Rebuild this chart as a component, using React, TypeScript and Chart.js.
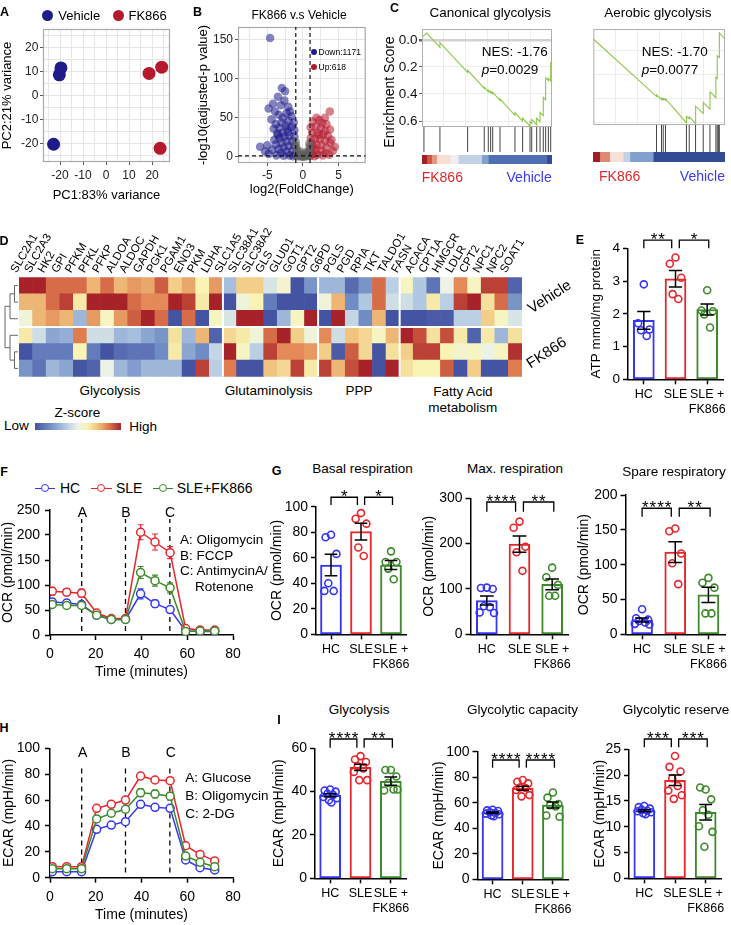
import React, { useEffect, useRef } from "react";
import { Chart, registerables } from "chart.js";

Chart.register(...registerables);
const FONT = "'Liberation Sans', Arial, Helvetica, sans-serif";
Chart.defaults.font.family = FONT;
Chart.defaults.color = "#000";

// ======================= DATA =======================
// A: PCA
const pcaVehicle = [[-19.6, 11.7], [-20.3, 8.8], [-22.8, -20.1]];
const pcaFK866 = [[18.7, 9.4], [24.2, 12.0], [23.5, -21.8]];
const pcaTicks = [-25, -20, -15, -10, -5, 0, 5, 10, 15, 20, 25];
const pcaMajorTicks = [-20, -10, 0, 10, 20];

// B: volcano (log2FC, -log10 padj)
const volcanoDown = [[-4.6, 152], [-2.95, 88], [-2.5, 84], [-3.5, 77], [-4.2, 68], [-2.05, 64], [-4.8, 62], [-3.1, 66], [-2.6, 72], [-3.9, 58], [-2.3, 56], [-3.4, 54], [-1.6, 52], [-4.4, 48], [-2.8, 50], [-1.3, 44], [-2.0, 46], [-3.0, 44], [-3.8, 42], [-4.1, 36], [-1.6, 38], [-2.4, 40], [-3.3, 37], [-1.2, 34], [-2.1, 32], [-2.9, 31], [-3.6, 30], [-1.2, 26], [-1.9, 27], [-2.6, 26], [-3.3, 24], [-4.0, 22], [-1.5, 20], [-2.3, 20], [-3.0, 18], [-3.8, 16], [-1.2, 14], [-2.0, 14], [-2.7, 12], [-3.4, 10], [-4.3, 9], [-1.5, 8], [-2.3, 7], [-3.1, 5], [-1.1, 3], [-1.9, 2], [-2.7, 1.5], [-3.7, 2], [-4.8, 4], [-5.3, 7], [-6.0, 13], [-5.0, 15], [-1.4, 1], [-3.5, 28], [-2.2, 36], [-1.8, 58]];
const volcanoUp = [[3.77, 58], [3.07, 50], [1.9, 50], [2.7, 43], [4.46, 13], [4.0, 22], [3.8, 35], [1.4, 45], [2.3, 47], [3.3, 42], [1.1, 38], [1.8, 39], [2.5, 37], [3.1, 33], [1.3, 31], [2.0, 31], [2.8, 29], [3.5, 27], [1.1, 24], [1.7, 23], [2.4, 23], [3.1, 21], [3.8, 18], [1.2, 17], [1.9, 16], [2.6, 15], [3.3, 12], [4.2, 8], [1.1, 10], [1.8, 9], [2.5, 8], [3.2, 5], [1.3, 4], [2.0, 3], [2.8, 2], [3.7, 3], [1.05, 1.5], [1.6, 1], [2.2, 28], [1.5, 13]];
const volcanoNs = [[0, 0.5], [-0.3, 2], [0.3, 2], [-0.6, 5], [0.6, 5], [-0.85, 9], [0.85, 8], [-0.95, 14], [0.95, 13], [-0.5, 1], [0.5, 1], [-0.2, 0.5], [0.2, 0.5], [-0.7, 3], [0.7, 3], [-1.0, 19], [0.9, 17], [-0.4, 7], [0.4, 6], [0, 1.5], [-0.8, 1], [0.8, 1.5]];
const volcanoXTicks = [-7.5, -5, -2.5, 0, 2.5, 5, 7.5];
const volcanoXMajor = [-5, 0, 5];
const volcanoYTicks = [0, 25, 50, 75, 100, 125, 150];
const volcanoYMajor = [0, 50, 100, 150];
const volcanoFcCut = [-1, 1];
const volcanoPCut = 1.3;
const volcanoDownCount = 1171;
const volcanoUpCount = 618;

// C: GSEA
const gseaCanonCurve = [[0, -0.02], [3.6, -0.05], [13.8, 0.055], [13.8, 0.02], [35.1, 0.24], [35.1, 0.225], [47.9, 0.359], [47.9, 0.349], [51, 0.382], [51, 0.372], [52.8, 0.391], [52.8, 0.381], [54.4, 0.398], [54.4, 0.388], [60, 0.447], [60, 0.437], [71.5, 0.558], [71.5, 0.538], [77.4, 0.6], [77.4, 0.578], [83.1, 0.638], [83.1, 0.605], [84.4, 0.618], [84.4, 0.588], [88.2, 0.628], [88.2, 0.578], [90.8, 0.605], [90.8, 0.535], [93.3, 0.56], [93.3, 0.425], [95.1, 0.443], [95.1, 0.28], [97.2, 0.3], [97.2, 0.285], [99, 0.305], [99, 0.17], [99.7, 0.177], [99.7, -0.02], [100, -0.02]];
const gseaCanonHits = [1.5, 13.8, 35.1, 47.9, 51, 52.8, 54.4, 60, 71.5, 77.4, 83.1, 84.4, 88.2, 90.8, 93.3, 95.1, 97.2, 99];
const gseaCanonStripEdges = [0, 3.6, 7.4, 11.3, 21.5, 27.9, 45.9, 51, 95.9, 100];
const gseaCanonStripScore = [2.0, 1.5, 1.0, 0.5, 0.05, -0.5, -1.0, -1.5, -1.9];
const gseaCanonTicks = [0, 0.1, 0.2, 0.3, 0.4, 0.5, 0.6];
const gseaAerobicCurve = [[0, 0], [48.1, -0.48], [48.1, -0.468], [51.9, -0.506], [51.9, -0.494], [53.2, -0.507], [53.2, -0.495], [54.9, -0.512], [54.9, -0.5], [70.8, -0.7], [70.8, -0.645], [72.9, -0.665], [72.9, -0.65], [77.7, -0.705], [77.7, -0.56], [83.5, -0.62], [83.5, -0.53], [88.6, -0.585], [88.6, -0.44], [93.1, -0.49], [93.1, -0.32], [94.1, -0.33], [94.1, -0.14], [95.7, -0.155], [95.7, 0.05], [100, 0.0]];
const gseaAerobicHits = [48.1, 51.9, 53.2, 54.9, 70.8, 72.9, 77.7, 83.5, 88.6, 93.1, 94.1, 95.0, 95.7];
const gseaAerobicStripEdges = [0, 5.1, 12.7, 22.8, 27.9, 45.6, 100];
const gseaAerobicStripScore = [2.0, 1.1, 0.4, -0.5, -1.0, -1.9];
const gseaAerobicTicks = [-0.7, -0.6, -0.5, -0.4, -0.3, -0.2, -0.1, 0];

// D: heatmap z-scores
const heatGenes = ["SLC2A1", "SLC2A3", "HK2", "GPI", "PFKM", "PFKL", "PFKP", "ALDOA", "ALDOC", "GAPDH", "PGK1", "PGAM1", "ENO3", "PKM", "LDHA", "SLC1A5", "SLC38A1", "SLC38A2", "GLS", "GLUD1", "GOT1", "GPT2", "G6PD", "PGLS", "PGD", "RPIA", "TKT", "TALDO1", "FASN", "ACACA", "CPT1A", "HMGCR", "LDLR", "CPT2", "NPC1", "NPC2", "SOAT1"];
const heatGroupSizes = [15, 7, 6, 9];
const heatVehicle1 = [2, 2, 1.5, 1.5, 1.5, 1.0, 1.5, 1.0, 1.2, 1.1, 1.6, 0.8, 1.1, 0.4, 1.2, -0.7, 0.8, 0.8, -0.2, 0.2, -2, -1.2, -0.8, -0.8, -1.7, -1.2, 1.5, -0.5, 0.3, -0.6, -1.6, 0.0, 1.3, 0.3, 1.8, 1.8, -1.8];
const heatVehicle2 = [1.0, 1.0, 1.5, 1.8, 0.5, 2, 2, 2, 1.5, 1.3, 1.3, 2, 1.8, 0.5, 2, -2, 0.1, 0.4, -1.5, -2, -2, -2, 0.1, 1.0, -1.3, -0.6, 1.5, -0.3, -0.3, -0.6, 0.5, -0.5, 1.8, 2, 0.6, 1.5, -1.2];
const heatVehicle3 = [0.1, 1.0, 1.2, 1.0, -0.8, 1.2, 0.3, 1.2, 1.6, 2, 1.5, -2, 1.5, -2, 0.3, -0.2, 2, 2, -2, -0.8, 0.3, 2, -2, 2, -0.4, -1.3, 1.0, -2, -2, -2, -1.9, -1.9, -0.5, -0.5, 0.8, 0.3, -0.2];
const heatFK1 = [0.5, -0.3, -1.0, -0.9, 1.4, -0.3, -0.3, -0.8, -0.7, -1.0, -1.2, 0.6, -0.8, 1.0, -1.8, 0.7, 0.5, 0.1, 1.5, 2, 0.8, 0.1, 1.3, -0.3, 0.9, 0.7, 0.3, 1.0, 2, 1.7, 0.6, 1.7, 0.5, -1.8, 0.5, -0.8, 0.6];
const heatFK2 = [-2, -1.5, -1.5, -1.5, 0.4, -1.5, -2, -1.7, -1.6, -1.6, -1.3, 0.5, -1.0, -1.3, -0.4, 2, 0.3, -0.5, 1.8, 1.3, 1.3, 1.2, 0.8, -1.9, 1.6, 0.7, -2, 0.6, 0.8, 1.8, 1.8, 0.4, 0.2, 0.3, 0.0, 0.3, 1.9];
const heatFK3 = [-1.2, -1.6, -0.8, -1.0, -2, -1.8, 0.0, -0.8, -1.1, -0.8, -0.8, -0.8, -2, 1.8, -0.5, 1.4, -2, -2, 0.9, 0.7, 1.8, 0.5, 1.8, 1.0, 1.7, 2, -2, 2, 0.6, 0.4, 0.4, 1.6, -2, 0.8, -2, -2, 1.4];

// E: ATP
const atpMean = [1.8, 3.07, 2.13];
const atpSem = [0.27, 0.25, 0.17];
const atpHC = [2.9, 1.71, 1.52, 1.5, 1.32];
const atpSLE = [3.72, 3.53, 3.1, 2.6, 2.45];
const atpFK = [2.72, 2.1, 2.08, 1.98, 1.58];

// F: OCR trace
const seahorseTime = [1, 7.3, 13.8, 20.4, 26.8, 33, 39.6, 45.9, 52.5, 59.3, 65.6, 72];
const seahorseInject = [13.85, 33, 52.4];
const ocrHC = [66, 64, 61, 39.5, 31, 31, 82.4, 62.6, 50.8, 8, 7, 7];
const ocrHCErr = [6, 6, 6, 6, 6, 6, 10, 7, 6, 2, 2, 2];
const ocrSLE = [87.5, 85.6, 83.6, 44, 33, 33, 205.5, 186, 164.6, 13, 10, 10];
const ocrSLEErr = [8, 7, 8, 5, 5, 5, 15, 16, 12, 3, 3, 3];
const ocrFK = [61, 59, 59, 39.5, 31, 31, 125, 108.7, 94.3, 7, 8, 8];
const ocrFKErr = [5, 4, 5, 6, 6, 6, 12, 11, 10, 2, 2, 2];

// G: OCR parameters
const basalMean = [54.3, 80.5, 54.3];
const basalSem = [8.5, 6.5, 3.5];
const basalHC = [78, 76, 63, 40, 34, 34];
const basalSLE = [95, 90.6, 86.7, 68, 61.4];
const basalFK = [65, 56.7, 56.7, 51.5, 43.2];
const maxMean = [74.5, 199, 110];
const maxSem = [10, 18, 12];
const maxHC = [103, 102, 100, 62, 60, 48, 47];
const maxSLE = [248.6, 235, 193, 181, 140];
const maxFK = [147, 126, 109, 85, 85];
const spareMean = [20.5, 118, 56.5];
const spareSem = [2.8, 15, 11];
const spareHC = [36, 23, 21, 19, 17, 15, 14];
const spareSLE = [152, 148, 116, 102, 72];
const spareFK = [81, 74, 67, 30, 30];

// H: ECAR trace
const ecarHC = [4.6, 4.6, 4.6, 37.4, 40.7, 43.3, 56.7, 54.4, 53.6, 13.7, 7.7, 6];
const ecarHCErr = [1, 1, 1, 1.5, 1.5, 1.5, 1.5, 1.5, 1.5, 1, 1, 1];
const ecarSLE = [8.5, 8.5, 8.5, 53.6, 56.7, 60, 78.6, 75.5, 75, 24.7, 18, 13];
const ecarSLEErr = [1, 1, 1, 1.5, 1.5, 2, 1.5, 1.5, 1.5, 1, 1, 1];
const ecarFK = [7, 7, 7, 45.4, 49.8, 52.9, 65.7, 64.7, 63, 16.8, 11.9, 8.5];
const ecarFKErr = [1, 1, 1, 2, 2, 2, 3, 3, 3, 1.5, 1.5, 1.5];

// I: ECAR parameters
const glycoMean = [38.3, 51.2, 44.8];
const glycoSem = [0.7, 1.4, 1.9];
const glycoHC = [41, 40.5, 40, 39, 38.5, 37.5, 37, 36, 35];
const glycoSLE = [56.4, 54.8, 53.7, 51.7, 50.7, 49.1, 45.3, 45.3];
const glycoFK = [50, 50, 47, 44, 41, 40.5, 41];
const capMean = [52.2, 71.3, 58.2];
const capSem = [0.6, 1.6, 2.3];
const capHC = [54.5, 54, 53.5, 52.5, 52, 51.5, 51, 50, 49.5];
const capSLE = [77.8, 76.5, 75.2, 72, 71.5, 70, 66, 65];
const capFK = [68, 64, 59, 58, 57, 50, 49];
const resMean = [13.1, 19.0, 12.8];
const resSem = [0.2, 1.0, 1.5];
const resHC = [14, 13.8, 13.5, 13.3, 13.1, 13, 12.8, 12.6, 12.4];
const resSLE = [23.7, 21.6, 20.7, 19.4, 17.9, 17, 16.1, 15.4];
const resFK = [17.2, 17.6, 15.3, 13.2, 12.3, 10.1, 9.0, 6.1];

const groupLabels: any[] = ["HC", "SLE", ["SLE +", "FK866"]];

// ======================= STYLE / HELPERS =======================
const NAVY = "#1f1b8a";
const CRIMSON = "#b5192e";
const HC_C = "#3535f5";
const SLE_C = "#e8262c";
const FK_C = "#3e8a2b";
const GROUP_COLORS = [HC_C, SLE_C, FK_C];
const JITTER = [0, -0.18, 0.18, -0.09, 0.09, -0.22, 0.22, -0.04, 0.04];
const CAP = 0.21;
const TCAP = 1.3;

type Box = { x: number; y: number; w: number; h: number };
type Area = { l: number; t: number; r: number; b: number };
function inset(box: Box, a: Area) {
  return { left: a.l - box.x, top: a.t - box.y, right: box.x + box.w - a.r, bottom: box.y + box.h - a.b };
}
const zeroPad = (s: any) => { s.paddingLeft = 0; s.paddingRight = 0; s.paddingTop = 0; s.paddingBottom = 0; };
const fixW = (w: number) => (s: any) => { s.width = w; zeroPad(s); };
const fixH = (h: number) => (s: any) => { s.height = h; zeroPad(s); };
const setTicks = (vals: number[]) => (s: any) => { s.ticks = vals.map((v) => ({ value: v })); };
const rgb = (c: number[]) => `rgb(${c.map((v) => Math.round(v)).join(",")})`;
function ramp(stops: any[], v: number) {
  if (v <= stops[0][0]) return rgb(stops[0][1]);
  for (let i = 1; i < stops.length; i++) {
    if (v <= stops[i][0]) {
      const [v0, c0] = stops[i - 1];
      const [v1, c1] = stops[i];
      const t = (v - v0) / (v1 - v0);
      return rgb(c0.map((c: number, k: number) => c + (c1[k] - c) * t));
    }
  }
  return rgb(stops[stops.length - 1][1]);
}
const HEAT_STOPS = [[-2, [69, 83, 163]], [-1.3, [112, 140, 196]], [-0.6, [176, 200, 226]], [0, [236, 243, 230]], [0.4, [249, 244, 180]], [0.9, [240, 196, 126]], [1.4, [224, 124, 78]], [2, [168, 34, 42]]];
const STRIP_STOPS = [[-2, [42, 66, 142]], [-1.5, [78, 112, 178]], [-1, [128, 160, 205]], [-0.5, [194, 210, 228]], [0, [238, 240, 246]], [0.5, [245, 222, 210]], [1, [228, 150, 128]], [1.5, [210, 85, 65]], [2, [160, 30, 36]]];
const zColor = (v: number) => ramp(HEAT_STOPS, v);

const baseOpts = () => ({
  animation: false,
  responsive: false,
  maintainAspectRatio: false,
  events: [],
  plugins: { legend: { display: false }, tooltip: { enabled: false }, title: { display: false } },
});

const framePlugin = (color: string, width = 1) => ({
  id: "frame",
  beforeDatasetsDraw(chart: any) {
    const { ctx, chartArea: c } = chart;
    ctx.save();
    ctx.strokeStyle = color;
    ctx.lineWidth = width;
    ctx.strokeRect(c.left + 0.5, c.top + 0.5, c.right - c.left - 1, c.bottom - c.top - 1);
    ctx.restore();
  },
});

function ggAxis(axis: string, min: number, max: number, ticks: number[], majors: number[], title: string, size: number, tickPad: number, titlePad: any) {
  const isMajor = (v: any) => majors.some((m) => Math.abs(m - v) < 1e-9);
  return {
    type: "linear", min, max,
    afterBuildTicks: setTicks(ticks),
    afterFit: axis === "x" ? fixH(size) : fixW(size),
    ticks: { font: { size: 12 }, color: "#222", padding: tickPad, autoSkip: false, maxRotation: 0, callback: (v: any) => (isMajor(v) ? String(v) : "") },
    grid: { color: "#e6e6e6", lineWidth: 1, drawTicks: true, tickLength: 3, tickColor: (c: any) => (c.tick && isMajor(c.tick.value) ? "#555" : "rgba(0,0,0,0)") },
    border: { display: false },
    title: { display: true, text: title, font: { size: 13 }, color: "#000", padding: titlePad },
  };
}

// ---------- A ----------
const A_BOX: Box = { x: 0, y: 12, w: 180, h: 192 };
const A_AREA: Area = { l: 43, t: 29, r: 170, b: 162 };
function pcaConfig(): any {
  const ins = inset(A_BOX, A_AREA);
  return {
    type: "scatter",
    data: {
      datasets: [
        { data: pcaVehicle.map(([x, y]) => ({ x, y })), backgroundColor: NAVY, borderWidth: 0, pointRadius: 6.5 },
        { data: pcaFK866.map(([x, y]) => ({ x, y })), backgroundColor: CRIMSON, borderWidth: 0, pointRadius: 6.5 },
      ],
    },
    options: {
      ...baseOpts(),
      layout: { padding: { left: 0, top: ins.top, right: ins.right, bottom: 0 } },
      scales: {
        x: ggAxis("x", -27.4, 27.8, pcaTicks, pcaMajorTicks, "PC1:83% variance", ins.bottom, 3.8, { top: 0, bottom: 1 }),
        y: ggAxis("y", -27.5, 27.9, pcaTicks, pcaMajorTicks, "PC2:21% variance", ins.left, 1.7, { top: 0, bottom: 0 }),
      },
    },
    plugins: [framePlugin("#a8a8a8", 1.2)],
  };
}

// ---------- B ----------
const B_BOX: Box = { x: 188, y: 12, w: 182, h: 192 };
const B_AREA: Area = { l: 238, t: 27, r: 366, b: 163 };
function volcanoConfig(): any {
  const ins = inset(B_BOX, B_AREA);
  const xMin = -9.1, xMax = 8.8, yMin = -7.7, yMax = 166;
  const dash = (pts: any[]) => ({ type: "scatter", showLine: true, data: pts, borderColor: "#111", borderWidth: 1.2, borderDash: [4, 3], pointRadius: 0 });
  return {
    type: "scatter",
    data: {
      datasets: [
        dash([{ x: volcanoFcCut[0], y: yMin }, { x: volcanoFcCut[0], y: yMax }]),
        dash([{ x: volcanoFcCut[1], y: yMin }, { x: volcanoFcCut[1], y: yMax }]),
        dash([{ x: xMin, y: volcanoPCut }, { x: xMax, y: volcanoPCut }]),
        { data: volcanoNs.map(([x, y]) => ({ x, y })), backgroundColor: "rgba(95,95,95,0.6)", borderWidth: 0, pointRadius: 4.3 },
        { data: volcanoDown.map(([x, y]) => ({ x, y })), backgroundColor: "rgba(31,27,138,0.55)", borderWidth: 0, pointRadius: 4.3 },
        { data: volcanoUp.map(([x, y]) => ({ x, y })), backgroundColor: "rgba(181,25,46,0.55)", borderWidth: 0, pointRadius: 4.3 },
      ],
    },
    options: {
      ...baseOpts(),
      layout: { padding: { left: 0, top: ins.top, right: ins.right, bottom: 0 } },
      scales: {
        x: ggAxis("x", xMin, xMax, volcanoXTicks, volcanoXMajor, "log2(FoldChange)", ins.bottom, 2.8, { top: 0, bottom: 7.2 }),
        y: ggAxis("y", yMin, yMax, volcanoYTicks, volcanoYMajor, "-log10(adjusted-p value)", ins.left, 2, { top: 7.2, bottom: 0 }),
      },
    },
    plugins: [framePlugin("#a8a8a8", 1.2)],
  };
}

// ---------- C ----------
const gseaGridX = [16.7, 33.3, 50, 66.7, 83.3];
function gseaConfig(box: Box, area: Area, curve: number[][], yMin: number, yMax: number, reverse: boolean, ticks: number[]): any {
  const ins = inset(box, area);
  const isMajor = (v: number) => Math.abs(Math.round(v * 10)) % 2 === 0;
  return {
    type: "line",
    data: { datasets: [{ data: curve.map(([x, y]) => ({ x, y })), borderColor: "#8dc74a", borderWidth: 1.1, pointRadius: 0, tension: 0 }] },
    options: {
      ...baseOpts(),
      layout: { padding: { left: 0, top: ins.top, right: ins.right, bottom: 0 } },
      scales: {
        x: { type: "linear", min: 0, max: 100, afterBuildTicks: setTicks(gseaGridX), ticks: { display: false }, grid: { color: "#ececec", drawTicks: false }, border: { display: false }, afterFit: fixH(ins.bottom) },
        y: {
          type: "linear", min: yMin, max: yMax, reverse,
          afterBuildTicks: setTicks(ticks), afterFit: fixW(ins.left),
          ticks: { font: { size: 13.5 }, color: "#111", padding: 1.5, callback: (v: any) => (isMajor(v) ? (Math.abs(v) < 1e-9 ? "0.0" : Number(v).toFixed(1)) : "") },
          grid: { color: (c: any) => (c.tick && Math.abs(c.tick.value) < 1e-9 ? "#d2d2d2" : "#ececec"), lineWidth: (c: any) => (c.tick && Math.abs(c.tick.value) < 1e-9 ? 2.5 : 1), tickLength: 3, tickColor: (c: any) => (c.tick && isMajor(c.tick.value) ? "#666" : "rgba(0,0,0,0)") },
          border: { display: false },
        },
      },
    },
    plugins: [framePlugin("#b0b0b0", 1)],
  };
}
function hitsConfig(hits: number[]): any {
  const pts: any[] = [];
  hits.forEach((h) => pts.push({ x: h, y: 0 }, { x: h, y: 1 }, { x: h, y: null }));
  return {
    type: "line",
    data: { datasets: [{ data: pts, borderColor: "#444", borderWidth: 1, pointRadius: 0, spanGaps: false }] },
    options: { ...baseOpts(), layout: { padding: 0 }, scales: { x: { type: "linear", min: 0, max: 100, display: false }, y: { type: "linear", min: 0, max: 1, display: false } } },
  };
}
function stripConfig(edges: number[], score: number[]): any {
  return {
    type: "bar",
    data: {
      labels: ["rank"],
      datasets: score.map((s, i) => ({ data: [[edges[i], edges[i + 1]]], backgroundColor: ramp(STRIP_STOPS, s), borderWidth: 0, grouped: false, barPercentage: 1, categoryPercentage: 1 })),
    },
    options: { ...baseOpts(), indexAxis: "y", layout: { padding: 0 }, scales: { x: { type: "linear", min: 0, max: 100, display: false, offset: false }, y: { display: false } } },
  };
}
const GC_BOX: Box = { x: 392, y: 12, w: 166, h: 127 };
const GC_AREA: Area = { l: 422, t: 29, r: 552, b: 127 };
const GA_BOX: Box = { x: 560, y: 12, w: 170, h: 125 };
const GA_AREA: Area = { l: 593.3, t: 29, r: 725, b: 125 };
const GC_HITS: Box = { x: 422, y: 127, w: 130, h: 25 };
const GA_HITS: Box = { x: 593, y: 125, w: 132, h: 27 };
const GC_STRIP: Box = { x: 422, y: 155, w: 130, h: 9 };
const GA_STRIP: Box = { x: 593, y: 152, w: 132, h: 10 };

// ---------- D ----------
const D_BOX: Box = { x: 0, y: 222, w: 562, h: 158 };
const D_AREA: Area = { l: 19, t: 277.3, r: 522, b: 376.7 };
function heatConfig(): any {
  const ins = inset(D_BOX, D_AREA);
  const rows = [heatVehicle1, heatVehicle2, heatVehicle3, heatFK1, heatFK2, heatFK3];
  const datasets = rows.slice().reverse().map((row) => ({ data: row.map(() => 1), backgroundColor: row.map(zColor), borderWidth: 0, barPercentage: 1, categoryPercentage: 1 }));
  const decor = {
    id: "heatDecor",
    afterDatasetsDraw(chart: any) {
      const { ctx, chartArea: ca, scales } = chart;
      const x = scales.x, y = scales.y;
      const seg = (x0: number, y0: number, x1: number, y1: number) => { ctx.beginPath(); ctx.moveTo(x0, y0); ctx.lineTo(x1, y1); ctx.stroke(); };
      ctx.save();
      ctx.strokeStyle = "#fff";
      ctx.lineWidth = 2;
      let idx = 0;
      heatGroupSizes.slice(0, -1).forEach((n) => {
        idx += n;
        const px = (x.getPixelForValue(idx - 1) + x.getPixelForValue(idx)) / 2;
        seg(px, ca.top, px, ca.bottom);
      });
      const py = y.getPixelForValue(3);
      seg(ca.left, py, ca.right, py);
      ctx.strokeStyle = "#666";
      ctx.lineWidth = 1;
      const ry = (r: number) => y.getPixelForValue(5.5 - r);
      const leaf = ca.left - 1;
      const lv3 = 14.5, lv2 = 10, lv1 = 5;
      const n12 = (ry(0) + ry(1)) / 2;
      seg(leaf, ry(0), lv3, ry(0)); seg(leaf, ry(1), lv3, ry(1)); seg(lv3, ry(0), lv3, ry(1));
      seg(lv3, n12, lv2, n12); seg(leaf, ry(2), lv2, ry(2)); seg(lv2, n12, lv2, ry(2));
      const top = (n12 + ry(2)) / 2;
      const n56 = (ry(4) + ry(5)) / 2;
      seg(leaf, ry(4), lv3, ry(4)); seg(leaf, ry(5), lv3, ry(5)); seg(lv3, ry(4), lv3, ry(5));
      seg(lv3, n56, lv2, n56); seg(leaf, ry(3), lv2, ry(3)); seg(lv2, ry(3), lv2, n56);
      const bot = (n56 + ry(3)) / 2;
      seg(lv2, top, lv1, top); seg(lv2, bot, lv1, bot); seg(lv1, top, lv1, bot);
      ctx.restore();
    },
  };
  return {
    type: "bar",
    data: { labels: heatGenes, datasets },
    options: {
      ...baseOpts(),
      layout: { padding: { left: ins.left, top: 0, right: ins.right, bottom: ins.bottom } },
      scales: {
        x: { type: "category", position: "top", stacked: true, offset: true, grid: { display: false, drawTicks: false }, border: { display: false }, ticks: { autoSkip: false, minRotation: 60, maxRotation: 60, font: { size: 11.5 }, color: "#000", padding: 2 }, afterFit: fixH(ins.top) },
        y: { stacked: true, min: 0, max: 6, display: false },
      },
    },
    plugins: [decor],
  };
}

// ---------- bar panels (E, G, I) ----------
type BarSpec = { box: Box; area: Area; yMax: number; yStep: number; yTitle: string; means: number[]; sems: number[]; points: number[][]; brackets: number[][]; stars: string[]; font: number; yTitlePad: number };
function starsPlugin(s: BarSpec) {
  return {
    id: "stars",
    afterDatasetsDraw(chart: any) {
      const { ctx } = chart;
      const xs = chart.scales.xp, ys = chart.scales.y;
      ctx.save();
      ctx.fillStyle = "#000";
      ctx.textAlign = "center";
      ctx.textBaseline = "alphabetic";
      ctx.font = `17px ${FONT}`;
      if ("letterSpacing" in ctx) (ctx as any).letterSpacing = "1px";
      s.brackets.forEach(([x0, x1, y], i) => ctx.fillText(s.stars[i], xs.getPixelForValue((x0 + x1) / 2) + 0.5, ys.getPixelForValue(y) + 5));
      ctx.restore();
    },
  };
}
function barConfig(s: BarSpec): any {
  const ins = inset(s.box, s.area);
  const eb: any[] = [];
  s.means.forEach((m, g) => {
    const e = s.sems[g];
    eb.push({ x: g, y: m - e }, { x: g, y: m + e }, { x: g, y: null }, { x: g - CAP, y: m + e }, { x: g + CAP, y: m + e }, { x: g, y: null }, { x: g - CAP, y: m - e }, { x: g + CAP, y: m - e }, { x: g, y: null });
  });
  const br: any[] = [];
  s.brackets.forEach(([x0, x1, y, leg]) => br.push({ x: x0, y: leg }, { x: x0, y }, { x: x1, y }, { x: x1, y: leg }, { x: x1, y: null }));
  const datasets: any[] = [
    { type: "bar", xAxisID: "x", data: s.means, backgroundColor: "#ffffff", borderColor: GROUP_COLORS, borderWidth: 2, borderSkipped: false, barThickness: 21, grouped: false, order: 4 },
    ...s.points.map((pts, g) => ({ type: "scatter", xAxisID: "xp", data: pts.map((v, i) => ({ x: g + JITTER[i % JITTER.length], y: v })), pointRadius: 3.5, pointBorderWidth: 1.6, pointBackgroundColor: "rgba(255,255,255,0)", pointBorderColor: GROUP_COLORS[g], order: 3 })),
    { type: "line", xAxisID: "xp", data: eb, borderColor: "#000", borderWidth: 1.5, pointRadius: 0, spanGaps: false, order: 2 },
    { type: "line", xAxisID: "xp", data: br, borderColor: "#000", borderWidth: 1.3, pointRadius: 0, spanGaps: false, clip: false, order: 1 },
  ];
  return {
    type: "bar",
    data: { labels: groupLabels, datasets },
    options: {
      ...baseOpts(),
      layout: { padding: { left: 0, top: ins.top, right: ins.right, bottom: 0 } },
      scales: {
        x: { type: "category", offset: true, grid: { display: true, drawOnChartArea: false, drawTicks: true, tickLength: 5, tickWidth: 1.5, tickColor: "#000", offset: false }, border: { display: true, color: "#000", width: 1.5 }, ticks: { color: "#000", font: { size: 12.5 }, padding: 3, autoSkip: false, maxRotation: 0, minRotation: 0 }, afterFit: fixH(ins.bottom) },
        xp: { type: "linear", display: false, offset: false, min: -0.5, max: 2.5, grid: { offset: false } },
        y: { type: "linear", min: 0, max: s.yMax, ticks: { stepSize: s.yStep, color: "#000", font: { size: s.font }, padding: 3 }, grid: { drawOnChartArea: false, drawTicks: true, tickLength: 5, tickWidth: 1.5, tickColor: "#000" }, border: { color: "#000", width: 1.5 }, title: { display: true, text: s.yTitle, color: "#000", font: { size: s.font }, padding: { top: s.yTitlePad, bottom: 0 } }, afterFit: fixW(ins.left) },
      },
    },
    plugins: [starsPlugin(s)],
  };
}
const BR = (y: number, leg: number) => [[0, 0.88, y, leg], [1.12, 2.05, y, leg]];
const E_SPEC: BarSpec = { box: { x: 582, y: 215, w: 149, h: 210 }, area: { l: 628, t: 248.3, r: 723, b: 379.3 }, yMax: 4, yStep: 1, yTitle: "ATP mmol/mg protein", means: atpMean, sems: atpSem, points: [atpHC, atpSLE, atpFK], brackets: BR(4.25, 4.0), stars: ["**", "*"], font: 13.5, yTitlePad: 6.6 };
const G1_SPEC: BarSpec = { box: { x: 268, y: 478, w: 150, h: 200 }, area: { l: 316, t: 506.7, r: 406, b: 634.3 }, yMax: 100, yStep: 20, yTitle: "OCR (pmol/min)", means: basalMean, sems: basalSem, points: [basalHC, basalSLE, basalFK], brackets: BR(107.4, 101.3), stars: ["*", "*"], font: 14, yTitlePad: 0.9 };
const G2_SPEC: BarSpec = { box: { x: 420, y: 478, w: 160, h: 200 }, area: { l: 470.5, t: 498.3, r: 568.5, b: 634.3 }, yMax: 300, yStep: 100, yTitle: "OCR (pmol/min)", means: maxMean, sems: maxSem, points: [maxHC, maxSLE, maxFK], brackets: BR(291.8, 270.5), stars: ["****", "**"], font: 14, yTitlePad: 0.4 };
const G3_SPEC: BarSpec = { box: { x: 575, y: 478, w: 156, h: 200 }, area: { l: 625.5, t: 495, r: 725, b: 634.3 }, yMax: 200, yStep: 50, yTitle: "OCR (pmol/min)", means: spareMean, sems: spareSem, points: [spareHC, spareSLE, spareFK], brackets: BR(181, 168.8), stars: ["****", "**"], font: 14, yTitlePad: 0.8 };
const I1_SPEC: BarSpec = { box: { x: 270, y: 718, w: 146, h: 207 }, area: { l: 315, t: 748.3, r: 406, b: 878.3 }, yMax: 60, yStep: 20, yTitle: "ECAR (mpH/min)", means: glycoMean, sems: glycoSem, points: [glycoHC, glycoSLE, glycoFK], brackets: BR(64.3, 60.3), stars: ["****", "**"], font: 14, yTitlePad: 0.8 };
const I2_SPEC: BarSpec = { box: { x: 430, y: 718, w: 146, h: 207 }, area: { l: 477.5, t: 751.7, r: 568, b: 879.3 }, yMax: 100, yStep: 20, yTitle: "ECAR (mpH/min)", means: capMean, sems: capSem, points: [capHC, capSLE, capFK], brackets: BR(93.5, 87.5), stars: ["****", "****"], font: 14, yTitlePad: 0.8 };
const I3_SPEC: BarSpec = { box: { x: 591, y: 718, w: 140, h: 207 }, area: { l: 629, t: 749.3, r: 721, b: 878.3 }, yMax: 25, yStep: 5, yTitle: "ECAR (mpH/min)", means: resMean, sems: resSem, points: [resHC, resSLE, resFK], brackets: BR(27.0, 25.4), stars: ["***", "***"], font: 14, yTitlePad: 0.6 };

// ---------- trace panels (F, H) ----------
type TraceSpec = { box: Box; area: Area; yMax: number; yStep: number; yTitle: string; series: { vals: number[]; errs: number[]; color: string; order: number }[]; dash: number[]; xTickPad: number; xTitlePad: number; yTitlePad: number };
function traceConfig(s: TraceSpec): any {
  const ins = inset(s.box, s.area);
  const datasets: any[] = [];
  s.series.forEach((ser) => {
    datasets.push({ type: "line", data: seahorseTime.map((t, i) => ({ x: t, y: ser.vals[i] })), borderColor: ser.color, borderWidth: 1.5, pointRadius: 4, pointBorderWidth: 1.5, pointBackgroundColor: "#fff", pointBorderColor: ser.color, tension: 0, order: ser.order });
    const eb: any[] = [];
    seahorseTime.forEach((t, i) => {
      const v = ser.vals[i], e = ser.errs[i];
      eb.push({ x: t, y: v - e }, { x: t, y: v + e }, { x: t, y: null }, { x: t - TCAP, y: v + e }, { x: t + TCAP, y: v + e }, { x: t, y: null }, { x: t - TCAP, y: v - e }, { x: t + TCAP, y: v - e }, { x: t, y: null });
    });
    datasets.push({ type: "line", data: eb, borderColor: ser.color, borderWidth: 1.2, pointRadius: 0, spanGaps: false, order: ser.order + 0.5 });
  });
  seahorseInject.forEach((t) => datasets.push({ type: "line", data: [{ x: t, y: s.dash[0] }, { x: t, y: s.dash[1] }], borderColor: "#000", borderWidth: 1.3, borderDash: [5, 4], pointRadius: 0, order: 10 }));
  const axisCommon = { grid: { drawOnChartArea: false, drawTicks: true, tickLength: 5, tickWidth: 1.5, tickColor: "#000" }, border: { color: "#000", width: 1.5 } };
  return {
    type: "line",
    data: { datasets },
    options: {
      ...baseOpts(),
      layout: { padding: { left: 0, top: ins.top, right: ins.right, bottom: 0 } },
      scales: {
        x: { type: "linear", min: 0, max: 80, ...axisCommon, ticks: { stepSize: 20, font: { size: 14 }, color: "#000", padding: s.xTickPad }, title: { display: true, text: "Time (minutes)", font: { size: 14 }, color: "#000", padding: { top: 0, bottom: s.xTitlePad } }, afterFit: fixH(ins.bottom) },
        y: { type: "linear", min: 0, max: s.yMax, ...axisCommon, ticks: { stepSize: s.yStep, font: { size: 14 }, color: "#000", padding: 5 }, title: { display: true, text: s.yTitle, font: { size: 14 }, color: "#000", padding: { top: s.yTitlePad, bottom: 0 } }, afterFit: fixW(ins.left) },
      },
    },
  };
}
const F_SPEC: TraceSpec = {
  box: { x: 0, y: 496, w: 250, h: 190 }, area: { l: 50, t: 510, r: 233, b: 635 }, yMax: 250, yStep: 50, yTitle: "OCR (pmol/min)",
  series: [{ vals: ocrHC, errs: ocrHCErr, color: HC_C, order: 3 }, { vals: ocrSLE, errs: ocrSLEErr, color: SLE_C, order: 2 }, { vals: ocrFK, errs: ocrFKErr, color: FK_C, order: 1 }],
  dash: [8, 232], xTickPad: 5.6, xTitlePad: 5.6, yTitlePad: 0,
};
const H_SPEC: TraceSpec = {
  box: { x: 0, y: 735, w: 250, h: 190 }, area: { l: 50, t: 748.3, r: 233, b: 877.7 }, yMax: 100, yStep: 20, yTitle: "ECAR (mpH/min)",
  series: [{ vals: ecarHC, errs: ecarHCErr, color: HC_C, order: 3 }, { vals: ecarSLE, errs: ecarSLEErr, color: SLE_C, order: 2 }, { vals: ecarFK, errs: ecarFKErr, color: FK_C, order: 1 }],
  dash: [4, 87], xTickPad: 5.6, xTitlePad: 1.6, yTitlePad: 0.8,
};

// ======================= COMPONENTS =======================
function ChartBox({ box, make }: { box: Box; make: () => any }) {
  const ref = useRef<HTMLCanvasElement | null>(null);
  useEffect(() => {
    const chart = new Chart(ref.current as HTMLCanvasElement, make());
    return () => chart.destroy();
  }, []);
  return <canvas ref={ref} width={box.w} height={box.h} style={{ position: "absolute", left: box.x, top: box.y, width: box.w, height: box.h }} />;
}

function Txt({ x, y, s = 13, a = "c", r = 0, b = false, c = "#000", children }: any) {
  const tx = a === "l" ? "0" : a === "r" ? "-100%" : "-50%";
  const origin = a === "l" ? "0 50%" : a === "r" ? "100% 50%" : "50% 50%";
  return (
    <div style={{ position: "absolute", left: x, top: y, fontSize: s, lineHeight: 1, whiteSpace: "nowrap", fontWeight: b ? 700 : 400, color: c, transform: `translate(${tx},-50%) rotate(${r}deg)`, transformOrigin: origin }}>
      {children}
    </div>
  );
}
function Dot({ x, y, r, c }: any) {
  return <div style={{ position: "absolute", left: x - r, top: y - r, width: 2 * r, height: 2 * r, borderRadius: "50%", background: c }} />;
}
function LegLine({ x0, x1, y, c }: any) {
  return (
    <>
      <div style={{ position: "absolute", left: x0, top: y - 0.75, width: x1 - x0, height: 1.5, background: c }} />
      <div style={{ position: "absolute", left: (x0 + x1) / 2 - 4.2, top: y - 4.2, width: 8.4, height: 8.4, boxSizing: "border-box", border: `1.5px solid ${c}`, borderRadius: "50%", background: "#fff" }} />
    </>
  );
}

const zGradient = `linear-gradient(to right, ${HEAT_STOPS.map((st: any) => `${rgb(st[1])} ${((st[0] + 2) / 4) * 100}%`).join(", ")})`;

export default function App() {
  return (
    <div style={{ position: "absolute", left: 0, top: 0, width: 731, height: 925, background: "#fff", fontFamily: FONT, overflow: "hidden" }}>
      <ChartBox box={A_BOX} make={pcaConfig} />
      <ChartBox box={B_BOX} make={volcanoConfig} />
      <ChartBox box={GC_BOX} make={() => gseaConfig(GC_BOX, GC_AREA, gseaCanonCurve, -0.08, 0.644, true, gseaCanonTicks)} />
      <ChartBox box={GA_BOX} make={() => gseaConfig(GA_BOX, GA_AREA, gseaAerobicCurve, -0.717, 0.083, false, gseaAerobicTicks)} />
      <ChartBox box={GC_HITS} make={() => hitsConfig(gseaCanonHits)} />
      <ChartBox box={GA_HITS} make={() => hitsConfig(gseaAerobicHits)} />
      <ChartBox box={GC_STRIP} make={() => stripConfig(gseaCanonStripEdges, gseaCanonStripScore)} />
      <ChartBox box={GA_STRIP} make={() => stripConfig(gseaAerobicStripEdges, gseaAerobicStripScore)} />
      <ChartBox box={D_BOX} make={heatConfig} />
      <ChartBox box={E_SPEC.box} make={() => barConfig(E_SPEC)} />
      <ChartBox box={F_SPEC.box} make={() => traceConfig(F_SPEC)} />
      <ChartBox box={G1_SPEC.box} make={() => barConfig(G1_SPEC)} />
      <ChartBox box={G2_SPEC.box} make={() => barConfig(G2_SPEC)} />
      <ChartBox box={G3_SPEC.box} make={() => barConfig(G3_SPEC)} />
      <ChartBox box={H_SPEC.box} make={() => traceConfig(H_SPEC)} />
      <ChartBox box={I1_SPEC.box} make={() => barConfig(I1_SPEC)} />
      <ChartBox box={I2_SPEC.box} make={() => barConfig(I2_SPEC)} />
      <ChartBox box={I3_SPEC.box} make={() => barConfig(I3_SPEC)} />

      {/* panel letters */}
      <Txt x={4.5} y={11.7} s={12.5} b>A</Txt>
      <Txt x={197.5} y={12} s={12.5} b>B</Txt>
      <Txt x={394.5} y={7.5} s={12.5} b>C</Txt>
      <Txt x={4} y={240.5} s={12.5} b>D</Txt>
      <Txt x={580} y={240} s={12.5} b>E</Txt>
      <Txt x={4} y={472} s={12.5} b>F</Txt>
      <Txt x={276.7} y={471} s={12.5} b>G</Txt>
      <Txt x={4} y={728} s={12.5} b>H</Txt>
      <Txt x={279} y={720} s={12.5} b>I</Txt>

      {/* A legend */}
      <Dot x={47.7} y={15} r={5.5} c={NAVY} />
      <Txt x={58.3} y={15} s={13} a="l">Vehicle</Txt>
      <Dot x={118.3} y={15} r={5.5} c={CRIMSON} />
      <Txt x={128.5} y={15} s={13} a="l">FK866</Txt>

      {/* B */}
      <Txt x={299} y={15} s={12}>FK866 v.s Vehicle</Txt>
      <Dot x={314.3} y={52.3} r={3} c={NAVY} />
      <Txt x={318.5} y={52.3} s={8.5} a="l">{`Down:${volcanoDownCount}`}</Txt>
      <Dot x={314.3} y={66.7} r={3} c={CRIMSON} />
      <Txt x={318.5} y={66.7} s={8.5} a="l">{`Up:${volcanoUpCount}`}</Txt>

      {/* C */}
      <Txt x={490.3} y={13} s={13.5}>Canonical glycolysis</Txt>
      <Txt x={657.8} y={13} s={13.5}>Aerobic glycolysis</Txt>
      <Txt x={389} y={91.5} s={14} r={-90}>Enrichment Score</Txt>
      <Txt x={481.7} y={52.3} s={13.5} a="l">NES: -1.76</Txt>
      <Txt x={481.7} y={70} s={13.5} a="l"><i>p</i>=0.0029</Txt>
      <Txt x={641.7} y={52.3} s={13.5} a="l">NES: -1.70</Txt>
      <Txt x={641.7} y={70} s={13.5} a="l"><i>p</i>=0.0077</Txt>
      <Txt x={421.7} y={177} s={14} a="l" c="#e0282c">FK866</Txt>
      <Txt x={551.7} y={177} s={14} a="r" c="#3a3af0">Vehicle</Txt>
      <Txt x={599} y={175.5} s={14} a="l" c="#e0282c">FK866</Txt>
      <Txt x={725} y={175.5} s={14} a="r" c="#3a3af0">Vehicle</Txt>

      {/* D */}
      <Txt x={110} y={390.5} s={13.5}>Glycolysis</Txt>
      <Txt x={268.7} y={390.5} s={13.5}>Glutaminolysis</Txt>
      <Txt x={359} y={390.5} s={13.5}>PPP</Txt>
      <Txt x={463} y={391.7} s={13.5}>Fatty Acid</Txt>
      <Txt x={462.8} y={408} s={13.5}>metabolism</Txt>
      <Txt x={548.7} y={295.8} s={15} r={-33}>Vehicle</Txt>
      <Txt x={546} y={351.7} s={15} r={-33}>FK866</Txt>
      <Txt x={77.3} y={413.3} s={13.5}>Z-score</Txt>
      <Txt x={4} y={426} s={13.5} a="l">Low</Txt>
      <div style={{ position: "absolute", left: 35, top: 422.7, width: 85.7, height: 7.3, background: zGradient }} />
      <Txt x={129.3} y={427} s={13.5} a="l">High</Txt>

      {/* F */}
      <LegLine x0={35} x1={55} y={488.3} c={HC_C} />
      <Txt x={60} y={488.3} s={14} a="l">HC</Txt>
      <LegLine x0={90.7} x1={111.7} y={488.3} c={SLE_C} />
      <Txt x={116} y={488.3} s={14} a="l">SLE</Txt>
      <LegLine x0={152.7} x1={173.3} y={488.3} c={FK_C} />
      <Txt x={176.7} y={488.3} s={14} a="l">SLE+FK866</Txt>
      <Txt x={82.5} y={512} s={14}>A</Txt>
      <Txt x={126} y={512} s={14}>B</Txt>
      <Txt x={170} y={512} s={14}>C</Txt>
      <Txt x={180} y={539.5} s={13.5} a="l">A: Oligomycin</Txt>
      <Txt x={180} y={556} s={13.5} a="l">B: FCCP</Txt>
      <Txt x={180} y={570.5} s={13.5} a="l">C: AntimycinA/</Txt>
      <Txt x={195} y={587} s={13.5} a="l">Rotenone</Txt>

      {/* G titles */}
      <Txt x={362.5} y={468.5} s={13.5}>Basal respiration</Txt>
      <Txt x={515} y={468.5} s={13.5}>Max. respiration</Txt>
      <Txt x={674} y={471.5} s={13.5}>Spare respiratory</Txt>

      {/* H */}
      <Txt x={82.7} y={751.7} s={14}>A</Txt>
      <Txt x={126} y={751.7} s={14}>B</Txt>
      <Txt x={170.7} y={751.7} s={14}>C</Txt>
      <Txt x={185.3} y={778.3} s={13.5} a="l">A: Glucose</Txt>
      <Txt x={185.3} y={796} s={13.5} a="l">B: Oligomycin</Txt>
      <Txt x={185.3} y={814} s={13.5} a="l">C: 2-DG</Txt>

      {/* I titles */}
      <Txt x={359.2} y={710} s={13.5}>Glycolysis</Txt>
      <Txt x={522.5} y={710} s={13.5}>Glycolytic capacity</Txt>
      <Txt x={676} y={710} s={13.5}>Glycolytic reserve</Txt>
    </div>
  );
}
